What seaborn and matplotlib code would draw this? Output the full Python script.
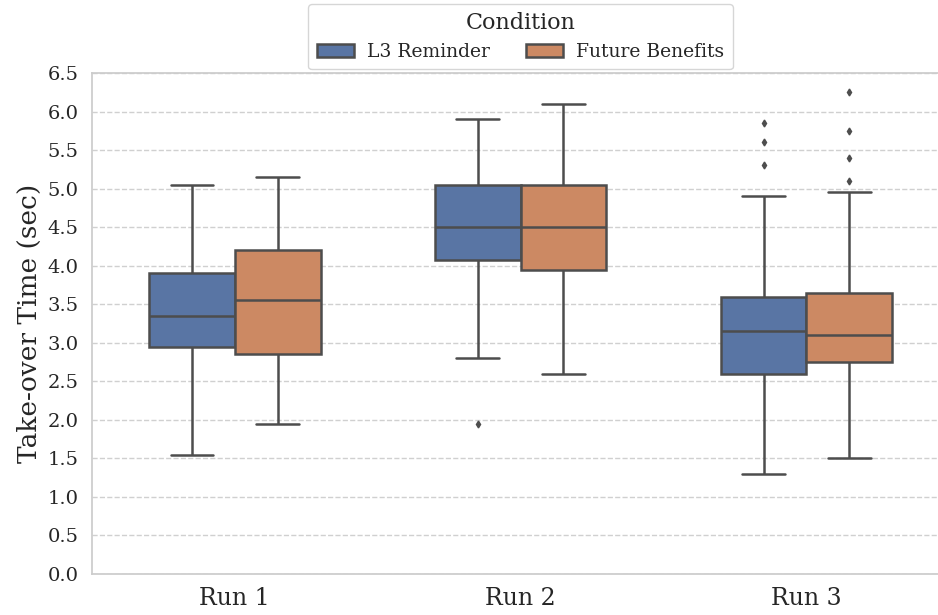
import numpy as np
import pandas as pd
import matplotlib
matplotlib.use("Agg")
import matplotlib.pyplot as plt
import seaborn as sns

runs = ["Run 1", "Run 2", "Run 3"]
conditions = ["L3 Reminder", "Future Benefits"]

# box statistics: (whisker low, Q1, median, Q3, whisker high)
l3_stats = [
    (1.55, 2.95, 3.35, 3.90, 5.05),
    (2.80, 4.07, 4.50, 5.05, 5.90),
    (1.30, 2.60, 3.15, 3.60, 4.90),
]
fb_stats = [
    (1.95, 2.85, 3.55, 4.20, 5.15),
    (2.60, 3.95, 4.50, 5.05, 6.10),
    (1.50, 2.75, 3.10, 3.65, 4.95),
]
l3_outliers = [[], [1.95], [5.30, 5.60, 5.85]]
fb_outliers = [[], [], [5.10, 5.40, 5.75, 6.25]]


def sample_from_stats(stats, outliers):
    lo, q1, med, q3, hi = stats
    low_out = [o for o in outliers if o < lo]
    high_out = [o for o in outliers if o > hi]
    low = low_out + [lo] * (5 - len(low_out))
    high = [hi] * (5 - len(high_out)) + high_out
    return low + [q1] * 10 + [med] * 10 + [q3] * 10 + high


rows = []
for cond, stats_list, outs in [(conditions[0], l3_stats, l3_outliers),
                               (conditions[1], fb_stats, fb_outliers)]:
    for run, st, ol in zip(runs, stats_list, outs):
        for v in sample_from_stats(st, ol):
            rows.append({"Run": run, "Condition": cond, "Time": v})
df = pd.DataFrame(rows)

sns.set_theme(style="whitegrid", palette="deep")
plt.rcParams["font.family"] = ["DejaVu Serif"]
plt.rcParams["grid.linestyle"] = "--"

fig = plt.figure(figsize=(9.38, 6.15), dpi=100)
ax = fig.add_axes([0.098, 0.0667, 0.914, 0.8146])

sns.boxplot(data=df, x="Run", y="Time", hue="Condition", order=runs,
            hue_order=conditions, width=0.6, saturation=0.75,
            linewidth=1.8, linecolor="#4d4d4d",
            flierprops=dict(marker="d", markersize=3.5,
                            markerfacecolor="#4d4d4d",
                            markeredgecolor="#4d4d4d"),
            ax=ax)

ax.set_ylim(0, 6.5)
ax.set_xlim(-0.5, 2.5)
ax.set_yticks(np.arange(0, 6.51, 0.5))
ax.set_yticklabels([f"{v:.1f}" for v in np.arange(0, 6.51, 0.5)])
ax.tick_params(axis="y", labelsize=14)
ax.tick_params(axis="x", labelsize=17)
ax.set_xlabel("")
ax.set_ylabel("Take-over Time (sec)", fontsize=19)
ax.grid(axis="x", visible=False)
ax.grid(axis="y", linestyle="--", color="#d0d0d0", linewidth=1)

sns.move_legend(ax, "lower center", bbox_to_anchor=(0.5, 1.0), ncol=2,
                title="Condition", fontsize=13.5, title_fontsize=16,
                frameon=True, columnspacing=1.9, handlelength=2.0,
                handletextpad=0.7, borderaxespad=0.2, labelspacing=0.45,
                borderpad=0.45)

fig.savefig("out.png", dpi=100)
